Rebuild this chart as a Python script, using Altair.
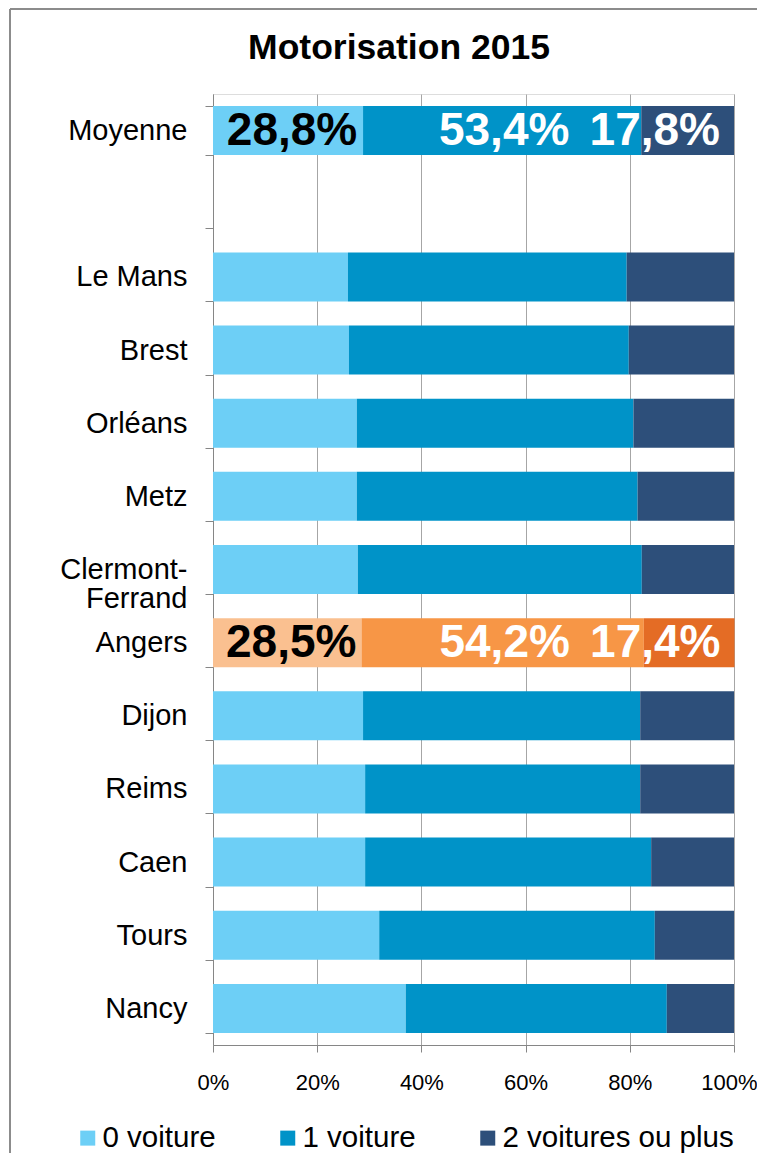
import altair as alt
import pandas as pd

# ---- data ----
categories = ["Moyenne", " ", "Le Mans", "Brest", "Orléans", "Metz",
              "Clermont-Ferrand", "Angers", "Dijon", "Reims", "Caen", "Tours", "Nancy"]
cities = ["Moyenne", "Le Mans", "Brest", "Orléans", "Metz", "Clermont-Ferrand",
          "Angers", "Dijon", "Reims", "Caen", "Tours", "Nancy"]
zero_car = [28.8, 25.9, 26.1, 27.6, 27.6, 27.8, 28.5, 28.8, 29.2, 29.2, 31.9, 37.0]
one_car = [53.4, 53.5, 53.7, 53.1, 53.9, 54.5, 54.2, 53.2, 52.8, 54.9, 52.9, 50.1]
two_cars = [17.8, 20.6, 20.2, 19.3, 18.5, 17.7, 17.4, 18.0, 18.0, 15.9, 15.2, 12.9]
series = ["0 voiture", "1 voiture", "2 voitures ou plus"]
blue = ["#6dcff6", "#0093c8", "#2d4f7a"]
orange = ["#fac090", "#f79646", "#e46c25"]
highlight = "Angers"
labelled = ["Moyenne", "Angers"]
x_ticks = [0, 20, 40, 60, 80, 100]
title_text = "Motorisation 2015"

FONT = "Liberation Sans"

rows = []
for i, c in enumerate(cities):
    vals = [zero_car[i], one_car[i], two_cars[i]]
    start = 0.0
    for s, v in zip(series, vals):
        end = start + v
        key = (highlight + " " + s) if c == highlight else s
        rows.append({"city": c, "serie": s, "key": key, "value": v,
                     "start": start, "end": end, "mid": (start + end) / 2,
                     "txt": f"{v:.1f}".replace(".", ",") + "%"})
        start = end
df = pd.DataFrame(rows)

color_domain = series + [highlight + " " + s for s in series]
color_range = blue + orange

y_enc = alt.Y("city:N",
              scale=alt.Scale(domain=categories, paddingInner=0.33, paddingOuter=0.165),
              axis=alt.Axis(title=None, tickBand="extent", domainColor="#868686",
                            tickColor="#868686", tickSize=8, labelFontSize=29,
                            labelColor="#000000", labelPadding=18, labelLineHeight=29,
                            labelFont=FONT, labelLimit=300,
                            labelExpr="datum.label == 'Clermont-Ferrand' ? ['Clermont-', 'Ferrand'] : datum.label"))

x_scale = alt.Scale(domain=[0, 100], nice=False)

bars = alt.Chart(df).mark_bar().encode(
    y=y_enc,
    x=alt.X("start:Q", scale=x_scale,
            axis=alt.Axis(title=None, values=x_ticks, labelExpr="datum.value + '%'",
                          grid=True, gridColor="#a6a6a6", domainColor="#868686",
                          tickColor="#868686", tickSize=7, labelFontSize=22,
                          labelColor="#000000", labelPadding=20, labelFont=FONT,
                          labelFlush=False, labelOverlap=False,
                          labelOffset={"condition": {"test": "datum.value == 100", "value": -5},
                                       "value": 0})),
    x2="end:Q",
    color=alt.Color("key:N",
                    scale=alt.Scale(domain=color_domain, range=color_range),
                    legend=alt.Legend(title=None, values=series, orient="none",
                                      direction="horizontal", legendX=-140, legendY=1029,
                                      symbolType="square", symbolSize=225,
                                      symbolStrokeWidth=0, labelFontSize=29.5,
                                      labelFont=FONT, labelColor="#000000",
                                      labelOffset=0, columnPadding=57, padding=0,
                                      labelLimit=400)),
)

lab = df[df["city"].isin(labelled)]

text_common = dict(fontSize=46, fontWeight="bold", font=FONT, baseline="middle")

t0 = alt.Chart(lab[lab["serie"] == series[0]]).mark_text(
    align="center", dx=4, color="#000000", **text_common
).encode(y=alt.Y("city:N"), x=alt.X("mid:Q"), text="txt:N")

t1 = alt.Chart(lab[lab["serie"] == series[1]]).mark_text(
    align="center", dx=2, color="#ffffff", **text_common
).encode(y=alt.Y("city:N"), x=alt.X("mid:Q"), text="txt:N")

t2 = alt.Chart(lab[lab["serie"] == series[2]]).mark_text(
    align="right", dx=-14, color="#ffffff", **text_common
).encode(y=alt.Y("city:N"), x=alt.X("end:Q"), text="txt:N")

one = alt.Data(values=[{"t": title_text}])
title = alt.Chart(one).mark_text(
    fontSize=35.5, fontWeight="bold", font=FONT, color="#000000",
    align="center", baseline="alphabetic"
).encode(x=alt.value(186), y=alt.value(-35), text="t:N")

frame_top = alt.Chart(one).mark_rule(color="#8c8c8c", strokeWidth=2).encode(
    x=alt.value(-203), x2=alt.value(560), y=alt.value(-85))
frame_left = alt.Chart(one).mark_rule(color="#8c8c8c", strokeWidth=2).encode(
    x=alt.value(-203), y=alt.value(-85), y2=alt.value(1090))

chart = alt.layer(bars, t0, t1, t2, title, frame_top, frame_left).properties(
    width=521, height=951,
    autosize=alt.AutoSizeParams(type="none"),
    padding={"left": 205, "top": 86, "right": 23, "bottom": 108},
).configure_view(stroke=None).configure(background="#ffffff")

chart.save("out.html", embed_options={"renderer": "svg", "actions": False})
